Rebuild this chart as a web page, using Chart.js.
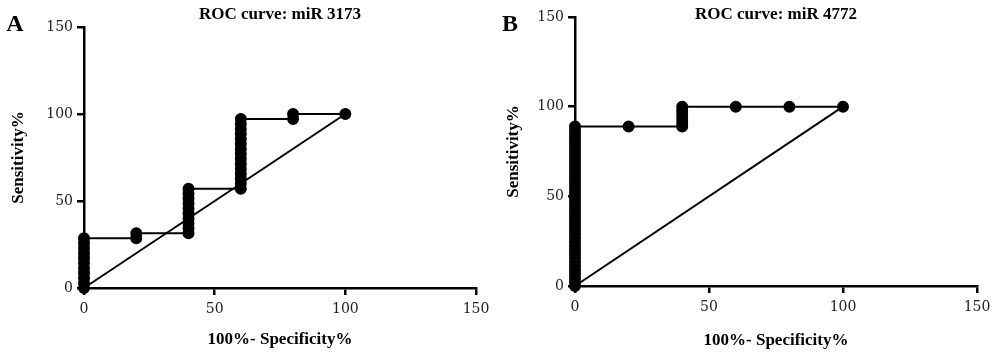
<!DOCTYPE html>
<html>
<head>
<meta charset="utf-8">
<script src="https://cdn.jsdelivr.net/npm/chart.js@4"></script>
<style>
    body { margin: 0; background: white; }
    #wrap { position: relative; width: 1000px; height: 353px; }
    canvas { position: absolute; top: 0; }
</style>
</head>
<body>
<div id="wrap">
    <canvas id="rocA" width="490" height="353" style="left:0px"></canvas>
    <canvas id="rocB" width="510" height="353" style="left:490px"></canvas>
</div>
<script>
// 100% - specificity (x) and sensitivity (y)
const specA = [0, 0, 0, 0, 0, 0, 0, 0, 0, 0, 0,
    20, 20,
    40, 40, 40, 40, 40, 40, 40, 40, 40, 40,
    60, 60, 60, 60, 60, 60, 60, 60, 60, 60, 60, 60, 60, 60, 60,
    80, 80,
    100];
const sensA = [0, 2.9, 5.7, 8.6, 11.4, 14.3, 17.1, 20, 22.9, 25.7, 28.6,
    28.6, 31.4,
    31.4, 34.3, 37.1, 40, 42.9, 45.7, 48.6, 51.4, 54.3, 57.1,
    57.1, 60, 62.9, 65.7, 68.6, 71.4, 74.3, 77.1, 80, 82.9, 85.7, 88.6, 91.4, 94.3, 97.1,
    97.1, 100,
    100];

const specB = [0, 0, 0, 0, 0, 0, 0, 0, 0, 0, 0, 0, 0, 0, 0, 0, 0, 0, 0, 0,
    0, 0, 0, 0, 0, 0, 0, 0, 0, 0, 0, 0, 0, 0, 0, 0, 0, 0, 0, 0, 0,
    20,
    40, 40, 40, 40, 40, 40,
    60, 80, 100];
const sensB = [0, 2.2, 4.4, 6.7, 8.9, 11.1, 13.3, 15.6, 17.8, 20,
    22.2, 24.4, 26.7, 28.9, 31.1, 33.3, 35.6, 37.8, 40, 42.2,
    44.4, 46.7, 48.9, 51.1, 53.3, 55.6, 57.8, 60, 62.2, 64.4,
    66.7, 68.9, 71.1, 73.3, 75.6, 77.8, 80, 82.2, 84.4, 86.7, 88.9,
    88.9,
    88.9, 91.1, 93.3, 95.6, 97.8, 100,
    100, 100, 100];

const chanceX = [0, 100];
const chanceY = [0, 100];
const tickValues = [0, 50, 100, 150];

const boldSerif = "'Liberation Serif', 'Times New Roman', serif";
const tickFont = "'DejaVu Serif', serif";

// heading above the plot and the panel letter
const panelText = {
    id: "panelText",
    afterDraw(chart, args, opts) {
        const ctx = chart.ctx;
        const area = chart.chartArea;
        ctx.save();
        ctx.fillStyle = "black";
        ctx.textAlign = "center";
        ctx.textBaseline = "middle";
        ctx.font = "bold 17px " + boldSerif;
        ctx.fillText(opts.title, (area.left + area.right) / 2 + (opts.shift || 0), opts.titleY);
        ctx.font = "bold 24px " + boldSerif;
        ctx.fillText(opts.letter, opts.letterX, opts.letterY);
        ctx.restore();
    }
};

function toPoints(xs, ys) {
    return xs.map((x, i) => ({ x: x, y: ys[i] }));
}

function axis(titleText, titlePad, tickPad, fit) {
    return {
        type: "linear",
        min: 0,
        max: 150,
        afterBuildTicks: scale => { scale.ticks = tickValues.map(v => ({ value: v })); },
        afterFit: fit,
        border: { display: true, color: "black", width: 2.5 },
        grid: { drawOnChartArea: false, drawTicks: true, tickLength: 7, tickColor: "black", lineWidth: 2.5 },
        ticks: { color: "#222", padding: tickPad, font: { family: tickFont, size: 14 } },
        title: {
            display: true,
            text: titleText,
            color: "black",
            padding: titlePad,
            font: { family: boldSerif, size: 17, weight: "bold" }
        }
    };
}

function drawRoc(container, spec, sens, o) {
    new Chart(container, {
        type: "scatter",
        data: {
            datasets: [{
                data: toPoints(spec, sens),
                showLine: true,
                borderColor: "black",
                backgroundColor: "black",
                borderWidth: 2,
                pointRadius: 5,
                pointHoverRadius: 5,
                clip: false
            },
            {
                data: toPoints(chanceX, chanceY),
                showLine: true,
                borderColor: "black",
                borderWidth: 2,
                pointRadius: 0,
                clip: false
            }]
        },
        options: {
            responsive: false,
            animation: false,
            layout: { padding: { top: o.top, right: o.right, left: 0, bottom: 0 } },
            scales: {
                x: axis("100%- Specificity%", { top: 0, bottom: o.xTitlePad }, 6, s => {
                    s.height = o.xHeight;
                    s.paddingLeft = 0;
                    s.paddingRight = 0;
                }),
                y: axis("Sensitivity%", { top: o.yTitlePad, bottom: 0 }, 4, s => {
                    s.width = o.yWidth;
                    s.paddingTop = 0;
                    s.paddingBottom = 0;
                })
            },
            plugins: {
                legend: { display: false },
                tooltip: { enabled: false },
                panelText: { title: o.title, titleY: 15, letter: o.letter, letterX: o.letterX, letterY: 25 }
            }
        },
        plugins: [panelText]
    });
}

window.onload = () => {
    drawRoc(document.getElementById("rocA"), specA, sensA, {
        title: "ROC curve: miR 3173", letter: "A", letterX: 15,
        top: 27, right: 14, yWidth: 84, xHeight: 65, yTitlePad: 8, xTitlePad: 3
    });
    drawRoc(document.getElementById("rocB"), specB, sensB, {
        title: "ROC curve: miR 4772", letter: "B", letterX: 20,
        top: 17, right: 23, yWidth: 85, xHeight: 67, yTitlePad: 13, xTitlePad: 2
    });
};
</script>
</body>
</html>
